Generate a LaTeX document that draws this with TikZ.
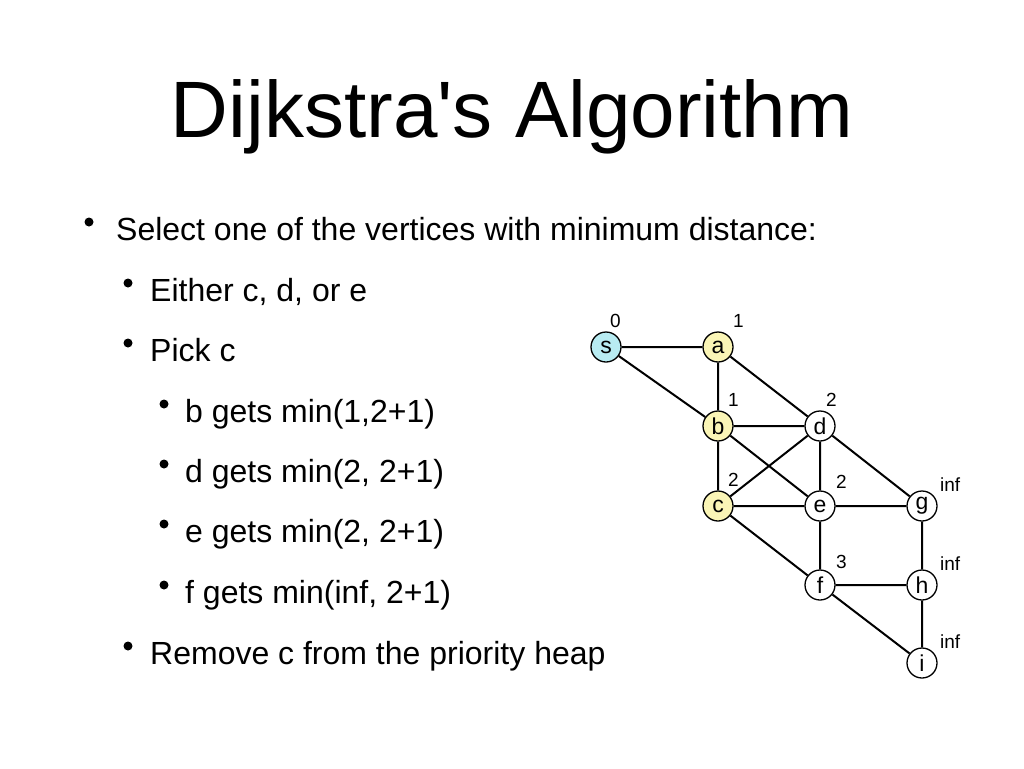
\documentclass[tikz,border=0pt]{standalone}
\usepackage{fontspec}
\setmainfont{Liberation Sans}
\definecolor{scyan}{RGB}{184,236,242}
\definecolor{syellow}{RGB}{250,245,182}
\begin{document}
\begin{tikzpicture}[x=1pt,y=-1pt,
  title/.style={font=\fontsize{80}{80}\selectfont, anchor=base},
  item/.style={font=\fontsize{32}{32}\selectfont, anchor=base west, inner sep=0pt},
  bul/.style={circle, fill=black, minimum size=9pt, inner sep=0pt},
  vert/.style={circle, draw=black, line width=1.3pt, fill=white, minimum size=30pt, inner sep=0pt, font=\fontsize{23}{23}\selectfont},
  dist/.style={font=\fontsize{19}{19}\selectfont, anchor=base west, inner sep=0pt},
  edge/.style={line width=2pt}]
\useasboundingbox (0,0) rectangle (1024,768);
\node[title] (t) at (512,137) {Dijkstra\textquotesingle s Algorithm};
% bullets
\node[bul] (b1) at (89,222) {};
\node[item] (l1) at (116,240) {Select one of the vertices with minimum distance:};
\node[bul] (b2) at (128,283) {};
\node[item] (l2) at (150,301) {Either c, d, or e};
\node[bul] (b3) at (128,343) {};
\node[item] (l3) at (150,361) {Pick c};
\node[bul] (b4) at (164,404) {};
\node[item] (l4) at (185,422) {b gets min(1,2+1)};
\node[bul] (b5) at (164,464) {};
\node[item] (l5) at (185,482) {d gets min(2, 2+1)};
\node[bul] (b6) at (164,524) {};
\node[item] (l6) at (185,542) {e gets min(2, 2+1)};
\node[bul] (b7) at (164,585) {};
\node[item] (l7) at (185,603) {f gets min(inf, 2+1)};
\node[bul] (b8) at (128,646) {};
\node[item] (l8) at (150,664) {Remove c from the priority heap};
% graph
\node[vert, fill=scyan] (s) at (606,347) {s};
\node[vert, fill=syellow] (a) at (718,347) {a};
\node[vert, fill=syellow] (b) at (718,426) {b};
\node[vert, fill=syellow] (c) at (718,506) {c};
\node[vert] (d) at (820,426) {d};
\node[vert] (e) at (820,506) {e};
\node[vert] (g) at (922,506) {g};
\node[vert] (f) at (820,585) {f};
\node[vert] (h) at (922,585) {h};
\node[vert] (i) at (922,663) {i};
\draw[edge] (s) -- (a) (s) -- (b) (a) -- (b) (a) -- (d) (b) -- (d) (b) -- (c)
  (b) -- (e) (d) -- (c) (d) -- (e) (d) -- (g) (c) -- (e) (c) -- (f)
  (e) -- (g) (e) -- (f) (f) -- (h) (f) -- (i) (g) -- (h) (h) -- (i);
\node[dist] (ds) at (610,327) {0};
\node[dist] (da) at (733,327) {1};
\node[dist] (db) at (728,406) {1};
\node[dist] (dd) at (826,406) {2};
\node[dist] (dc) at (728,486) {2};
\node[dist] (de) at (836,488) {2};
\node[dist] (dg) at (940,491) {inf};
\node[dist] (df) at (836,568) {3};
\node[dist] (dh) at (940,570) {inf};
\node[dist] (di) at (940,648) {inf};
\end{tikzpicture}
\end{document}
